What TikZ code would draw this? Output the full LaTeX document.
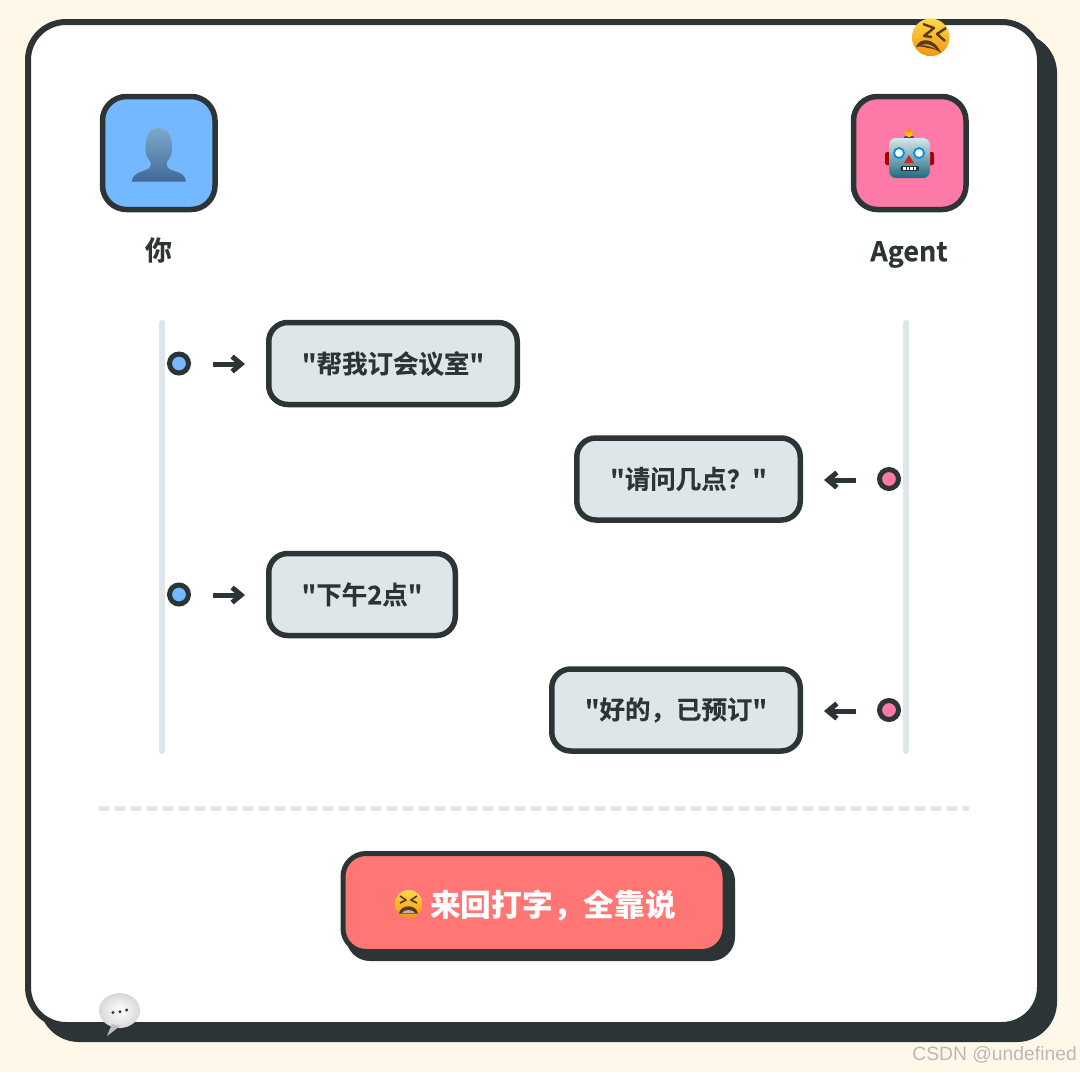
\documentclass[tikz,border=0pt]{standalone}
\usepackage{fontspec}
\usetikzlibrary{arrows.meta}
\newfontfamily\cjk[BoldFont={Noto Sans CJK SC Bold},BoldFeatures={FakeBold=0.25}]{Noto Sans CJK SC}
\newfontfamily\cjkblack{Noto Sans CJK SC Black}
\newfontfamily\wm{Liberation Sans}
\definecolor{ink}{HTML}{2D3436}
\definecolor{cream}{HTML}{FFF8E8}
\definecolor{mist}{HTML}{DFE6E9}
\definecolor{sky}{HTML}{74B9FF}
\definecolor{rose}{HTML}{FD79A8}
\definecolor{coral}{HTML}{FF7675}
\definecolor{persontop}{HTML}{80A8CC}
\definecolor{personbot}{HTML}{3F6A96}
\definecolor{faceyellow}{HTML}{FFD84A}
\definecolor{faceorange}{HTML}{F2950F}
\definecolor{facebrown}{HTML}{5A3A14}
\definecolor{headtop}{HTML}{D5E6EA}
\definecolor{headmid}{HTML}{8FBFC8}
\definecolor{headbot}{HTML}{1F6A80}
\tikzset{
  x=1pt,y=-1pt,
  avatar/.style={draw=ink,line width=5.5pt,rounded corners=24pt},
  bubble/.style={draw=ink,line width=5.5pt,fill=mist,rounded corners=19pt,anchor=center,inner sep=0pt,text=ink,font=\cjk\bfseries\fontsize{25.5}{25.5}\selectfont},
  rail/.style={draw=mist,line width=6pt,line cap=round},
  dot/.style={circle,draw=ink,line width=5pt,inner sep=0pt,minimum size=19pt},
  msg/.style={draw=ink,line width=5pt,-{Straight Barb[length=9pt,width=15pt,line width=5pt]}},
  lab/.style={text=ink,font=\cjk\bfseries\fontsize{27}{27}\selectfont},
}
\begin{document}
\begin{tikzpicture}
\useasboundingbox (0,0) rectangle (1080,1072);
\fill[cream] (0,0) rectangle (1080,1072);
% card
\fill[ink,rounded corners=40pt] (39,33) rectangle (1057,1042);
\draw[ink,fill=white,line width=6pt,rounded corners=38pt] (28,22) rectangle (1040,1025);
% avatars
\draw[avatar,fill=sky] (102.5,96.5) rectangle (215,209.5);
\draw[avatar,fill=rose] (853.5,96.5) rectangle (966,209.5);
% person
\shade[top color=persontop,bottom color=personbot]
 (131.7,181.7) .. controls (133,172) and (142,172) .. (148,169) .. controls (151.5,167) and (151,163) .. (150,161)
 .. controls (145,156) and (145.5,150) .. (145.5,146) .. controls (145.5,134) and (151,128) .. (158.7,128)
 .. controls (166.5,128) and (172,134) .. (172,146) .. controls (172,150) and (172.5,156) .. (167.5,161)
 .. controls (166.5,163) and (166,167) .. (169.5,169) .. controls (175,172) and (185,172) .. (186,181.7) -- cycle;
% robot
\fill[red!65!black,rounded corners=1.5pt] (885,152) rectangle (934,165);
\fill[violet!70!gray] (903,139) .. controls (903,134) and (915,134) .. (915,139) -- cycle;
\shade[top color=orange,bottom color=yellow!90!orange] (909,133) circle[radius=4];
\shade[top color=headtop,middle color=headmid,bottom color=headbot,rounded corners=7pt] (889,138) rectangle (930,178);
\draw[cyan!75!blue,line width=1.8pt,fill=white] (899,153) circle[radius=5] (919,153) circle[radius=5];
\fill[red!75!black!85!white] (909,155) -- (914,163) -- (904,163) -- cycle;
\fill[ink,rounded corners=2pt] (900.5,166) rectangle (919,171);
\foreach \i in {903,906.5,910,913.5}{\fill[white] (\i,167.2) rectangle +(2.5,2.6);}
% tired face
\shade[top color=faceyellow,bottom color=faceorange] (930.7,37.3) circle[radius=18.8];
\draw[facebrown,line width=2.4pt,line join=round] (923,24) -- (934,28) -- (924,36) -- (932,37);
\draw[facebrown,line width=2.4pt,line join=round] (946,28) -- (937,34) -- (945,41);
\fill[facebrown] (916,47) .. controls (920,37) and (934,37) .. (941,53) .. controls (933,47) and (925,45) .. (916,47) -- cycle;
\fill[facebrown] (919,46) .. controls (923,40) and (933,42) .. (938,50) -- cycle;
\fill[faceyellow!60!brown] (921,45.5) .. controls (925,43) and (931,44) .. (936,49) .. controls (930,46) and (926,45) .. (921,45.5) -- cycle;
% rails
\draw[rail] (162,323) -- (162,751);
\draw[rail] (906,323) -- (906,751);
% messages
\node[dot,fill=sky] (d1) at (179,363.5) {};
\node[dot,fill=rose,minimum size=19pt] (d2) at (889,479) {};
\node[dot,fill=sky] (d3) at (179,594.5) {};
\node[dot,fill=rose] (d4) at (889,710) {};
\node[bubble,minimum width=248.5pt,minimum height=82pt] (b1) at (393,363.5) {"帮我订会议室"};
\node[bubble,minimum width=223.5pt,minimum height=82pt] (b2) at (688.5,479) {"请问几点？"};
\node[bubble,minimum width=186.5pt,minimum height=82pt] (b3) at (362,594.5) {"下午2点"};
\node[bubble,minimum width=248.5pt,minimum height=82pt] (b4) at (676,710) {"好的，已预订"};
\coordinate (a1) at (213,364);\coordinate (e1) at (245,364);
\coordinate (a2) at (856,480);\coordinate (e2) at (824,480);
\coordinate (a3) at (213,595);\coordinate (e3) at (245,595);
\coordinate (a4) at (856,711);\coordinate (e4) at (824,711);
\draw[msg] (a1) -- (e1);
\draw[msg] (a2) -- (e2);
\draw[msg] (a3) -- (e3);
\draw[msg] (a4) -- (e4);
% labels
\node[lab] (you) at (158.5,250) {你};
\node[lab] (agent) at (909,254.5) {Agent};
% divider
\draw[mist,line width=5pt,dash pattern=on 10pt off 6pt] (99,808) -- (969,808);
% button
\fill[ink,rounded corners=24pt] (346,857) rectangle (735,961);
\node[draw=ink,line width=5pt,fill=coral,rounded corners=23pt,minimum width=382pt,minimum height=98pt,inner sep=0pt] (btn) at (534,902.5) {};
\node[text=white,anchor=west,inner sep=0pt,font=\cjkblack\fontsize{30.7}{30.7}\selectfont] (btnt) at (430,905.5) {来回打字，全靠说};
% weary face
\shade[top color=faceyellow,bottom color=faceorange] (408.7,904) circle[radius=14];
\draw[facebrown,line width=1.6pt,line join=round] (400,896) -- (406,900) -- (400,903);
\draw[facebrown,line width=1.6pt,line join=round] (417,896) -- (411,900) -- (417,903);
\fill[facebrown] (399,913.5) .. controls (401,904) and (416,904) .. (418,913.5) -- cycle;
\fill[gray!60] (402,913) .. controls (404,909) and (413,909) .. (415,913) -- cycle;
% speech bubble
\shade[inner color=white,outer color=gray!30] (119.5,1010.5) ellipse[x radius=20.5,y radius=17.5];
\fill[gray!50] (112,1024) -- (107,1036) -- (120,1026) -- cycle;
\fill[ink] (113,1012.5) circle[radius=1.7] (120,1011.7) circle[radius=1.7] (126.7,1010) circle[radius=1.7];
% watermark
\node[anchor=east,inner sep=0pt,text=gray!55,font=\wm\fontsize{19.3}{19.3}\selectfont] (wm) at (1077,1055) {CSDN @undefined};
\end{tikzpicture}
\end{document}
